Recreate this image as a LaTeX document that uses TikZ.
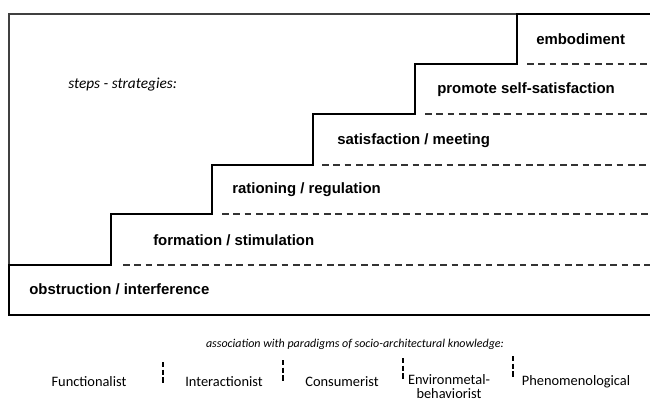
\documentclass[tikz,border=0pt]{standalone}
\usepackage{fontspec}
\setmainfont{Liberation Sans}
\newfontfamily\calib{Carlito}
\begin{document}
\begin{tikzpicture}[x=0.75pt,y=-0.75pt,
  stair/.style={line width=2.2pt,line join=miter},
  frame/.style={line width=1pt,draw=black!75},
  lvl/.style={line width=1pt,dash pattern=on 5pt off 3.5pt,draw=black!80},
  sep/.style={line width=0.8pt,dash pattern=on 4pt off 1.8pt},
  steplbl/.style={anchor=west,font=\bfseries\fontsize{11.2}{13}\selectfont,inner sep=0pt},
  para/.style={anchor=center,font=\calib\fontsize{10.8}{10.8}\selectfont,inner sep=0pt,align=center}]
\useasboundingbox (0,0) rectangle (650,401);
% frame
\draw[frame] (517,14) -- (9,14) -- (9,265);
% staircase
\draw[stair] (650,14) -- (517,14) -- (517,64) -- (415,64) -- (415,114) -- (313,114) -- (313,165)
  -- (212,165) -- (212,214) -- (111,214) -- (111,265) -- (9,265) -- (9,315) -- (650,315);
% level dashed lines
\draw[lvl] (527,64) -- (650,64);
\draw[lvl] (425,114) -- (650,114);
\draw[lvl] (322,165) -- (650,165);
\draw[lvl] (222,214) -- (650,214);
\draw[lvl] (123,265) -- (650,265);
% labels
\node[steplbl] (e) at (536,39) {embodiment};
\node[steplbl] (p) at (437,90) {promote self-satisfaction};
\node[steplbl] (s) at (337,141) {satisfaction / meeting};
\node[steplbl] (r) at (232,190) {rationing / regulation};
\node[steplbl] (f) at (153,240) {formation / stimulation};
\node[steplbl] (o) at (29,289) {obstruction / interference};
\node[anchor=west,font=\calib\itshape\fontsize{11.5}{13}\selectfont,inner sep=0pt] (st) at (68,85) {steps - strategies:};
\node[font=\calib\itshape\fontsize{9}{11}\selectfont,inner sep=0pt] (cap) at (355,344) {association with paradigms of socio-architectural knowledge:};
% paradigms
\node[para] (p1) at (89,382) {Functionalist};
\node[para] (p2) at (224,382) {Interactionist};
\node[para] (p3) at (342,382) {Consumerist};
\node[para] (p4) at (449,386.5) {Environmetal-\\behaviorist};
\node[para] (p5) at (576,382) {Phenomenological};
\coordinate (a1) at (163,362); \coordinate (b1) at (163,384);
\coordinate (a2) at (283,360); \coordinate (b2) at (283,382);
\coordinate (a3) at (403,358); \coordinate (b3) at (403,379);
\coordinate (a4) at (513,356); \coordinate (b4) at (513,377);
\draw[sep] (a1) -- (b1);
\draw[sep] (a2) -- (b2);
\draw[sep] (a3) -- (b3);
\draw[sep] (a4) -- (b4);
\end{tikzpicture}
\end{document}
